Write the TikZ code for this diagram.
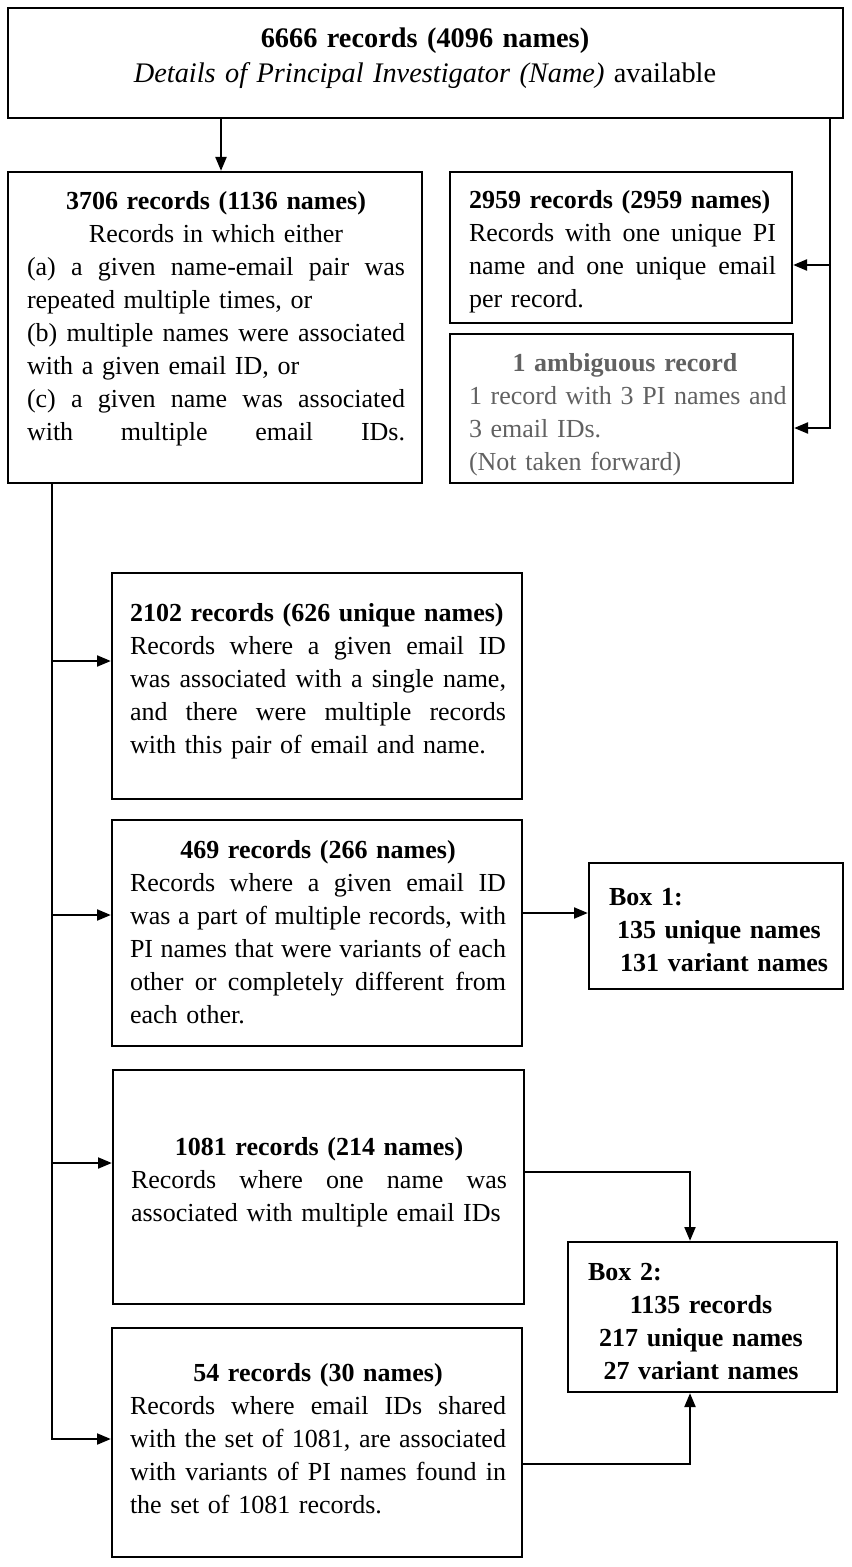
\documentclass[tikz,border=0pt]{standalone}
\usepackage{fontspec}
\setmainfont{Liberation Serif}
\usetikzlibrary{arrows.meta}
\setlength{\parindent}{0pt}
\newcommand{\lnjust}[1]{{\spaceskip=0.25em plus 10em minus 0.08em\makebox[\hsize][s]{#1}}}
\newcommand{\lncent}[1]{\makebox[\hsize][c]{#1}}
\newcommand{\lnleft}[1]{\makebox[\hsize][l]{#1}}

\begin{document}
\begin{tikzpicture}[x=0.45pt,y=-0.45pt,>={Triangle[length=6.2pt,width=5pt]}]
\tikzset{
	%frame of a box
	recbox/.style={rectangle, draw=black, line width=1.1pt, inner sep=0pt},
	boxwh/.style 2 args={minimum width=#1*0.45pt, minimum height=#2*0.45pt},
	%text inside a box
	rectext/.style={align=left, inner sep=0pt, text width=#1*0.45pt,
		font=\fontsize{11.7}{14.85}\selectfont},
	dropped/.style={text=black!62},
	% arrow style
	pil/.style={->, line width=0.75pt}
}
\useasboundingbox (0,0) rectangle (851,1567);

	%frames
	\node[recbox,boxwh={835}{110}] (btop) at (425.5,63) {};
	\node[recbox,boxwh={414}{311}] (b3706) at (215,327.5) {};
	\node[recbox,boxwh={342}{151}] (b2959) at (621,247.5) {};
	\node[recbox,boxwh={343}{149}] (bamb) at (621.5,408.5) {};
	\node[recbox,boxwh={410}{226}] (b2102) at (317,686) {};
	\node[recbox,boxwh={410}{226}] (b469) at (317,933) {};
	\node[recbox,boxwh={254}{126}] (bbox1) at (716,926) {};
	\node[recbox,boxwh={411}{234}] (b1081) at (318.5,1187) {};
	\node[recbox,boxwh={410}{229}] (b54) at (317,1442.5) {};
	\node[recbox,boxwh={269}{150}] (bbox2) at (702.5,1317) {};

	%texts
	\node[rectext=820,align=center,font=\fontsize{12.75}{15.75}\selectfont] (ttop) at (425,58)
		{\textbf{6666 records (4096 names)}\\ \textit{Details of Principal Investigator (Name)} available};
	\node[rectext=378] (t3706) at (216,319) {\lncent{\textbf{3706 records (1136 names)}}\\
		\lncent{Records in which either}\\
		\lnjust{(a) a given name-email pair was}\\
		\lnleft{repeated multiple times, or}\\
		\lnjust{(b) multiple names were associated}\\
		\lnleft{with a given email ID, or}\\
		\lnjust{(c) a given name was associated}\\
		\lnjust{with multiple email IDs.}};
	\node[rectext=307] (t2959) at (622.5,252) {\lnleft{\textbf{2959 records (2959 names)}}\\
		\lnjust{Records with one unique PI}\\
		\lnjust{name and one unique email}\\
		\lnleft{per record.}};
	\node[rectext=312,dropped] (tamb) at (625,414.5) {\lncent{\textbf{1 ambiguous record}}\\
		\lnleft{1 record with 3 PI names and}\\
		\lnleft{3 email IDs.}\\
		\lnleft{(Not taken forward)}};
	\node[rectext=376] (t2102) at (318,681.5) {\lnleft{\textbf{2102 records (626 unique names)}}\\
		\lnjust{Records where a given email ID}\\
		\lnjust{was associated with a single name,}\\
		\lnjust{and there were multiple records}\\
		\lnleft{with this pair of email and name.}};
	\node[rectext=376] (t469) at (318,932.5) {\lncent{\textbf{469 records (266 names)}}\\
		\lnjust{Records where a given email ID}\\
		\lnjust{was a part of multiple records, with}\\
		\lnjust{PI names that were variants of each}\\
		\lnjust{other or completely different from}\\
		\lnleft{each other.}};
	\node[rectext=220] (tbox1) at (719,930) {\bfseries\lnleft{Box 1:}\\
		\lnleft{\hspace*{3.6pt}135 unique names}\\
		\lnleft{\hspace*{5pt}131 variant names}};
	\node[rectext=376] (t1081) at (319,1182) {\lncent{\textbf{1081 records (214 names)}}\\
		\lnjust{Records where one name was}\\
		\lnleft{associated with multiple email IDs}};
	\node[rectext=376] (t54) at (318,1439) {\lncent{\textbf{54 records (30 names)}}\\
		\lnjust{Records where email IDs shared}\\
		\lnjust{with the set of 1081, are associated}\\
		\lnjust{with variants of PI names found in}\\
		\lnleft{the set of 1081 records.}};
	\node[rectext=226] (tbox2) at (701,1321.5) {\bfseries\lnleft{Box 2:}\\
		\lncent{1135 records}\\
		\lncent{217 unique names}\\
		\lncent{27 variant names}};

	%split of the full set
	\coordinate (rsplit) at (830,265);
	\draw[pil] (btop.south -| 221,0) -- (b3706.north -| 221,0);
	\draw[pil] (btop.south -| rsplit) |- (bamb.east |- 0,428);
	\draw[pil] (rsplit) -- (b2959.east |- rsplit);

	%split of the 3706 records
	\coordinate (ltrunk) at (52,1439);
	\draw[pil] (b3706.south -| ltrunk) |- (b54.west |- ltrunk);
	\foreach \b/\y in {b2102/661,b469/915,b1081/1163}
		\draw[pil] (ltrunk |- 0,\y) -- (\b.west |- 0,\y);

	%into box 1 and box 2
	\draw[pil] (b469.east |- 0,913) -- (bbox1.west |- 0,913);
	\draw[pil] (b1081.east |- 0,1172) -| (bbox2.north -| 690,0);
	\draw[pil] (b54.east |- 0,1464) -| (bbox2.south -| 690,0);

\end{tikzpicture}
\end{document}
